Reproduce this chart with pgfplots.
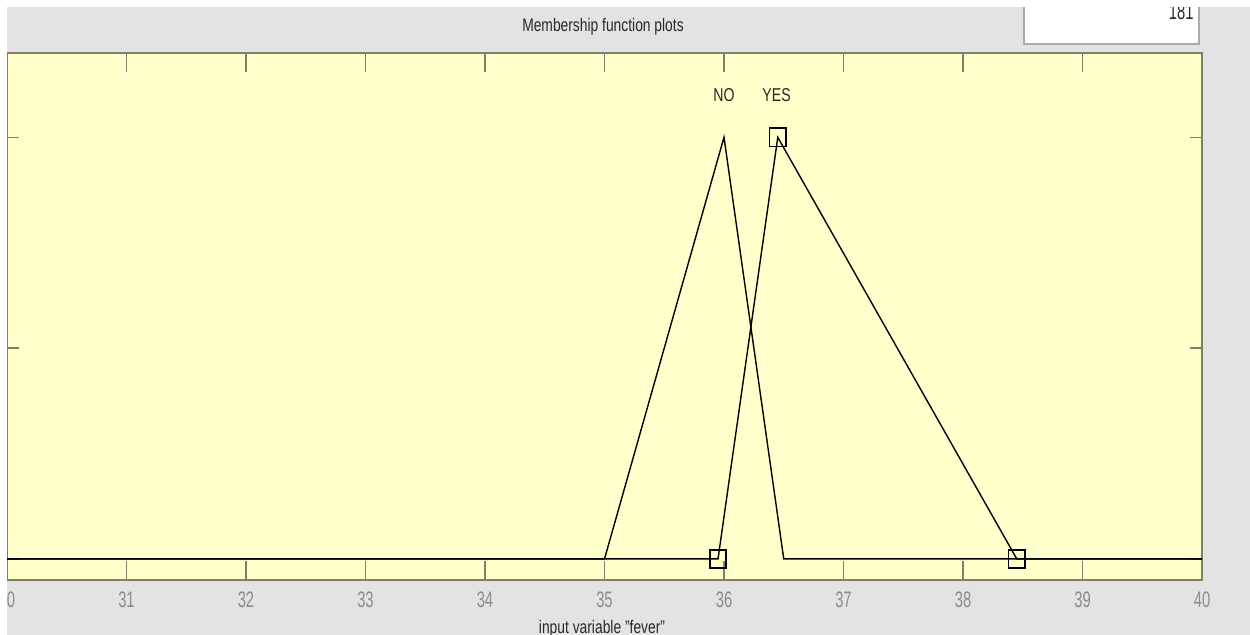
\documentclass[border=0pt]{standalone}
\usepackage{fontspec}
\setmainfont{Liberation Sans}[FakeStretch=0.76]
\newfontfamily\tickfont{Liberation Sans}[FakeStretch=0.66]
\usepackage{pgfplots}
\pgfplotsset{compat=1.18}
\definecolor{panelgray}{RGB}{227,227,227}
\definecolor{mfyellow}{RGB}{255,255,204}
\definecolor{framecol}{RGB}{128,128,104}
\definecolor{ticklab}{RGB}{140,140,140}
\definecolor{boxedge}{RGB}{170,170,170}
\definecolor{txt}{RGB}{40,40,40}
\begin{document}
\begin{tikzpicture}
\begin{scope}[x=0.5pt,y=0.5pt]
\fill[white] (0,0) rectangle (1250,635);
\fill[panelgray] (7,0) rectangle (1250,628);
\fill[white] (1024,591) rectangle (1199,628);
\draw[boxedge, line width=0.6pt] (1024,628) -- (1024,591) -- (1199,591) -- (1199,628);
\begin{scope}
\clip (1024,591) rectangle (1199,628);
\node[anchor=base east, inner sep=0pt, text=txt, font=\tickfont\fontsize{11.2}{12}\selectfont] at (1194,615.5) {181};
\end{scope}
\node[anchor=base, inner sep=0pt, text=txt, font=\fontsize{9.1}{11}\selectfont] at (603,603) {Membership function plots};
\node[anchor=base, inner sep=0pt, text=txt, font=\fontsize{9.1}{11}\selectfont] at (602,1) {input variable "fever"};
\end{scope}
\begin{axis}[
  at={(3.5pt,27.5pt)}, anchor=south west,
  scale only axis, width=597.5pt, height=263.5pt,
  xmin=30, xmax=40, ymin=-0.05, ymax=1.2,
  axis background/.style={fill=mfyellow},
  axis line style={framecol, line width=0.75pt},
  xtick={30,31,...,40}, ytick={0,0.5,1}, yticklabels={},
  tick align=inside,
  xtick pos=both, ytick pos=both,
  tick style={framecol, line width=0.65pt},
  xtick style={/pgfplots/major tick length=9.5pt},
  ytick style={/pgfplots/major tick length=6pt},
  xticklabel style={font=\tickfont\fontsize{11.2}{12}\selectfont, text=ticklab, anchor=center, yshift=-10pt},
  /pgf/number format/assume math mode=true,
]
\addplot[black, line width=0.7pt] coordinates {(30,0)(35,0)(36,1)(36.5,0)(40,0)};
\addplot[black, line width=0.7pt] coordinates {(30,0)(35.95,0)(36.45,1)(38.45,0)(40,0)};
\addplot[only marks, mark=square, mark size=4.6pt, mark options={black, line width=0.9pt, fill=none, xscale=0.9}] coordinates {(35.95,0)(36.45,1)(38.45,0)};
\node[anchor=base, inner sep=0pt, text=txt, font=\fontsize{9.3}{11}\selectfont] at (axis cs:36,1.086) {NO};
\node[anchor=base, inner sep=0pt, text=txt, font=\fontsize{9.3}{11}\selectfont] at (axis cs:36.44,1.086) {YES};
\end{axis}
\fill[white] (-20pt,0pt) rectangle (3.5pt,330pt);
\fill[white] (-20pt,314pt) rectangle (640pt,330pt);
\pgfresetboundingbox
\path[use as bounding box] (0pt,0pt) rectangle (625pt,317.5pt);
\end{tikzpicture}
\end{document}
